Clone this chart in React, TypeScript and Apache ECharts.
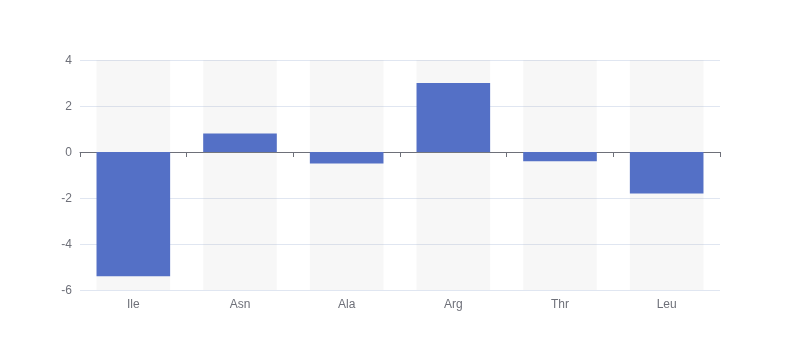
import React, { useEffect, useRef } from "react";
import * as echarts from "echarts";

const categories = ["Ile", "Asn", "Ala", "Arg", "Thr", "Leu"];
const values = [-5.4, 0.8, -0.5, 3.0, -0.4, -1.8];
const yTicks = { min: -6, max: 4, interval: 2 };

export default function App() {
  const ref = useRef<HTMLDivElement>(null);
  useEffect(() => {
    if (!ref.current) return;
    const chart = echarts.init(ref.current, undefined, { renderer: "svg" });
    chart.setOption({
      animation: false,
      grid: { left: 80, right: 80, top: 60, bottom: 70 },
      xAxis: [
        {
          type: "category",
          data: categories,
          axisLine: { onZero: true, lineStyle: { color: "#6E7079" } },
          axisTick: { show: true },
          axisLabel: { show: false },
        },
        {
          type: "category",
          data: categories,
          position: "bottom",
          axisLine: { show: false, onZero: false },
          axisTick: { show: false },
          axisLabel: { show: true, color: "#6E7079", fontSize: 12 },
        },
      ],
      yAxis: {
        type: "value",
        min: yTicks.min,
        max: yTicks.max,
        interval: yTicks.interval,
        axisLabel: { color: "#6E7079", fontSize: 12 },
        splitLine: { lineStyle: { color: "#E0E6F1" } },
      },
      series: [
        {
          type: "bar",
          xAxisIndex: 0,
          data: values,
          barWidth: "69%",
          itemStyle: { color: "#5470c6" },
          showBackground: true,
          backgroundStyle: { color: "rgba(180,180,180,0.1)" },
        },
      ],
    });
    return () => chart.dispose();
  }, []);
  return (
    <div
      ref={ref}
      style={{ position: "fixed", left: 0, top: 0, width: 800, height: 360 }}
    />
  );
}
